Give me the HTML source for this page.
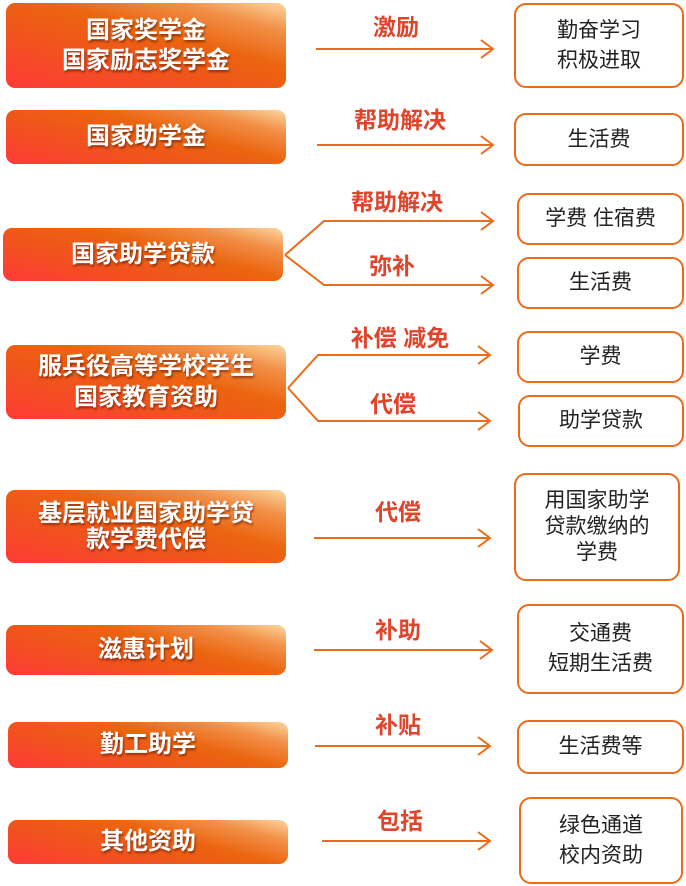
<!DOCTYPE html>
<html><head><meta charset="utf-8"><style>
body{margin:0;width:686px;height:886px;background:#fff;position:relative;overflow:hidden;font-family:"Liberation Sans","Noto Sans CJK SC",sans-serif}
.l{position:absolute;border-radius:9px;background:linear-gradient(15deg,#ff3a38 0%,#f0541c 35%,#eb650f 60%,#f29048 82%,#fdd7a0 100%);color:#fff;font-weight:bold;font-size:24px;line-height:30px;text-align:center;display:flex;align-items:center;justify-content:center;text-shadow:1px 2px 2px rgba(80,20,0,.6);letter-spacing:0}
.r{position:absolute;border:2px solid #ec6a1a;border-radius:12px;box-sizing:border-box;color:#222;font-size:21px;line-height:30px;text-align:center;display:flex;align-items:center;justify-content:center}
.t{position:absolute;color:#e0452c;font-weight:bold;font-size:23px;transform:translateX(-50%);white-space:nowrap;line-height:26px}
svg{position:absolute;left:0;top:0}
</style></head><body>
<div class="l" style="left:6px;top:3px;width:280px;height:85px">国家奖学金<br>国家励志奖学金</div>
<div class="l" style="left:6px;top:110px;width:280px;height:54px">国家助学金</div>
<div class="l" style="left:3px;top:228px;width:280px;height:53px">国家助学贷款</div>
<div class="l" style="left:6px;top:345px;width:280px;height:74px;line-height:31px">服兵役高等学校学生<br>国家教育资助</div>
<div class="l" style="left:6px;top:490px;width:280px;height:73px;line-height:26px">基层就业国家助学贷<br>款学费代偿</div>
<div class="l" style="left:6px;top:625px;width:280px;height:50px">滋惠计划</div>
<div class="l" style="left:8px;top:722px;width:280px;height:46px">勤工助学</div>
<div class="l" style="left:8px;top:820px;width:280px;height:44px">其他资助</div>

<div class="r" style="left:514px;top:3px;width:170px;height:85px">勤奋学习<br>积极进取</div>
<div class="r" style="left:514px;top:113px;width:170px;height:53px">生活费</div>
<div class="r" style="left:517px;top:193px;width:167px;height:52px">学费 住宿费</div>
<div class="r" style="left:517px;top:257px;width:167px;height:52px">生活费</div>
<div class="r" style="left:517px;top:331px;width:167px;height:52px">学费</div>
<div class="r" style="left:518px;top:395px;width:166px;height:52px">助学贷款</div>
<div class="r" style="left:514px;top:473px;width:166px;height:108px;line-height:26px">用国家助学<br>贷款缴纳的<br>学费</div>
<div class="r" style="left:517px;top:604px;width:167px;height:90px">交通费<br>短期生活费</div>
<div class="r" style="left:517px;top:720px;width:167px;height:54px">生活费等</div>
<div class="r" style="left:519px;top:797px;width:164px;height:87px">绿色通道<br>校内资助</div>

<div class="t" style="left:396px;top:14px">激励</div>
<div class="t" style="left:400px;top:107px">帮助解决</div>
<div class="t" style="left:397px;top:189px">帮助解决</div>
<div class="t" style="left:392px;top:253px">弥补</div>
<div class="t" style="left:400px;top:325px">补偿 减免</div>
<div class="t" style="left:393px;top:391px">代偿</div>
<div class="t" style="left:398px;top:499px">代偿</div>
<div class="t" style="left:398px;top:617px">补助</div>
<div class="t" style="left:398px;top:712px">补贴</div>
<div class="t" style="left:400px;top:808px">包括</div>

<svg width="686" height="886" fill="none" stroke="#ec6a1a" stroke-width="2">
<path d="M316 49H493M481 40L493 49L481 58"/>
<path d="M317 145H493M481 136L493 145L481 154"/>
<path d="M285 255L324 221H493M481 212L493 221L481 230"/>
<path d="M285 255L324 285H493M481 276L493 285L481 294"/>
<path d="M288 388L318 355H490M478 346L490 355L478 364"/>
<path d="M288 388L318 421H490M478 412L490 421L478 430"/>
<path d="M314 538H490M478 529L490 538L478 547"/>
<path d="M314 650H492M480 641L492 650L480 659"/>
<path d="M315 746H490M478 737L490 746L478 755"/>
<path d="M322 841H490M478 832L490 841L478 850"/>
</svg>
</body></html>
